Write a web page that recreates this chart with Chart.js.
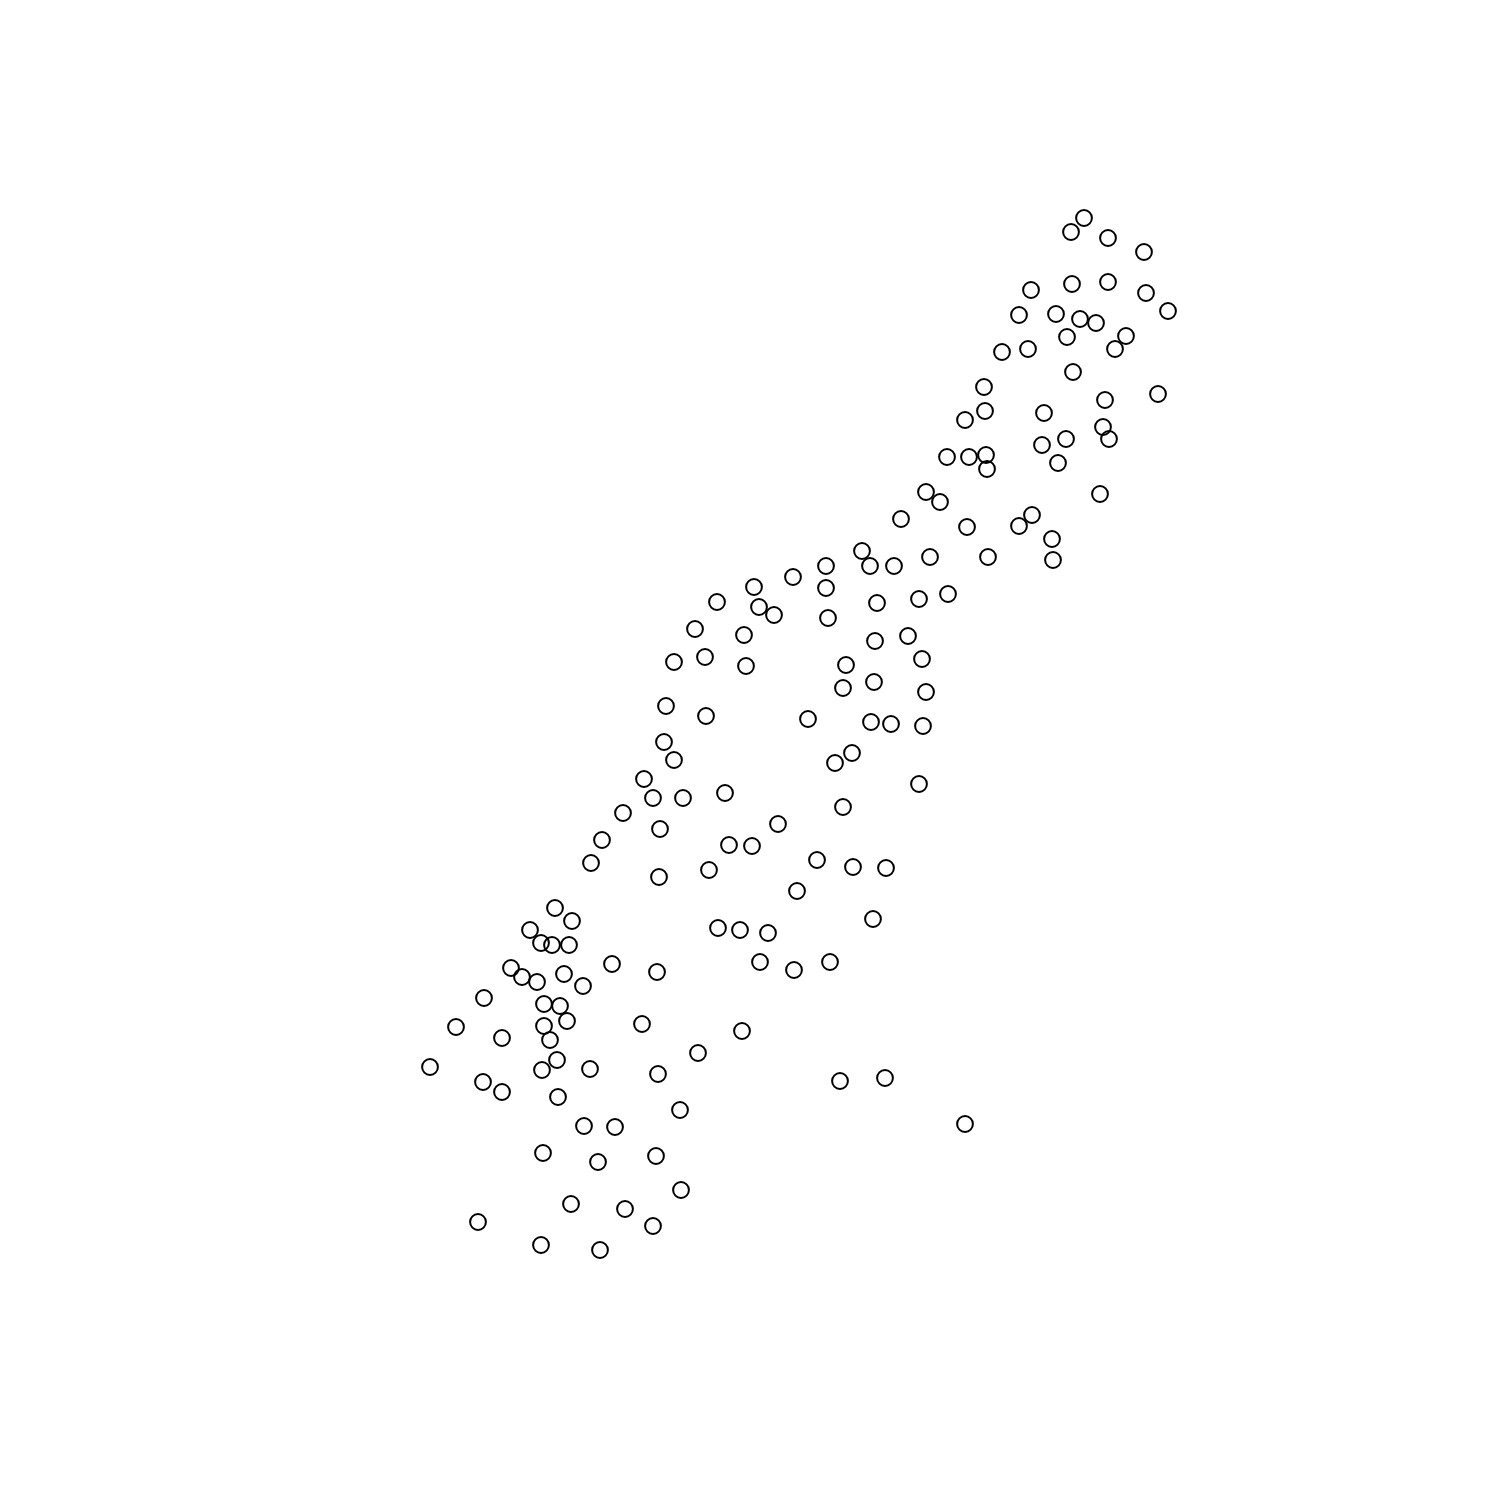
<!DOCTYPE html>
<html>
<head>
<meta charset="utf-8">
<script src="https://cdn.jsdelivr.net/npm/chart.js@4/dist/chart.umd.min.js"></script>
<style>
html,body{margin:0;padding:0;background:#fff;}
#wrap{position:absolute;left:0;top:0;width:1512px;height:1512px;}
</style>
</head>
<body>
<div id="wrap"><canvas id="c" width="1512" height="1512"></canvas></div>
<script>
const xValues = [1084,1071,1108,1144,1031,1072,1108,1146,1168,1019,1056,1080,1096,1126,1067,1002,1028,1115,1073,984,
1158,1105,985,1044,965,1103,1066,1109,1042,947,969,986,1058,987,926,940,1100,901,1032,1019,
967,1052,862,930,988,1053,826,870,894,793,754,826,948,717,759,877,919,774,828,695,
744,908,875,705,674,746,846,922,843,874,926,666,706,808,871,891,923,664,852,674,
835,644,653,683,725,919,843,623,778,602,660,729,752,591,817,853,886,709,659,797,
555,572,873,530,541,552,569,718,740,768,612,760,794,830,657,511,522,537,564,583,
484,544,560,567,544,456,642,742,502,550,698,557,430,542,590,658,483,502,840,885,
558,680,584,615,965,543,656,598,681,571,625,478,653,541,600];
const yValues = [218,232,238,252,290,284,282,293,311,315,314,319,323,336,337,352,349,349,372,387,
394,400,411,413,420,427,439,439,445,457,457,455,463,469,492,502,494,519,515,526,
527,539,551,557,557,560,566,566,566,577,587,588,594,602,607,603,599,615,618,629,
635,636,641,657,662,666,665,659,688,682,692,706,716,719,722,724,726,742,753,760,
763,779,798,798,793,784,807,813,824,840,829,845,846,863,860,867,868,870,877,891,
908,921,919,930,943,945,945,928,930,933,964,962,970,962,972,968,977,982,974,986,
998,1004,1006,1021,1026,1027,1024,1031,1038,1040,1053,1060,1067,1070,1069,1074,1082,1092,1081,1078,
1097,1110,1126,1127,1124,1153,1156,1162,1190,1204,1209,1222,1226,1245,1250];

const points = xValues.map((x, i) => ({x: x, y: yValues[i]}));

new Chart(document.getElementById('c'), {
  type: 'scatter',
  data: {
    datasets: [{
      data: points,
      pointStyle: 'circle',
      pointRadius: 7.9,
      pointHoverRadius: 7.9,
      pointBorderWidth: 2,
      pointBorderColor: '#000',
      pointBackgroundColor: 'rgba(0,0,0,0)',
      showLine: false
    }]
  },
  options: {
    responsive: false,
    animation: false,
    layout: { padding: 0, autoPadding: false },
    plugins: { legend: { display: false }, tooltip: { enabled: false }, title: { display: false } },
    scales: {
      x: { type: 'linear', display: false, min: 0, max: 1512 },
      y: { type: 'linear', display: false, min: 0, max: 1512, reverse: true }
    }
  }
});
</script>
</body>
</html>
